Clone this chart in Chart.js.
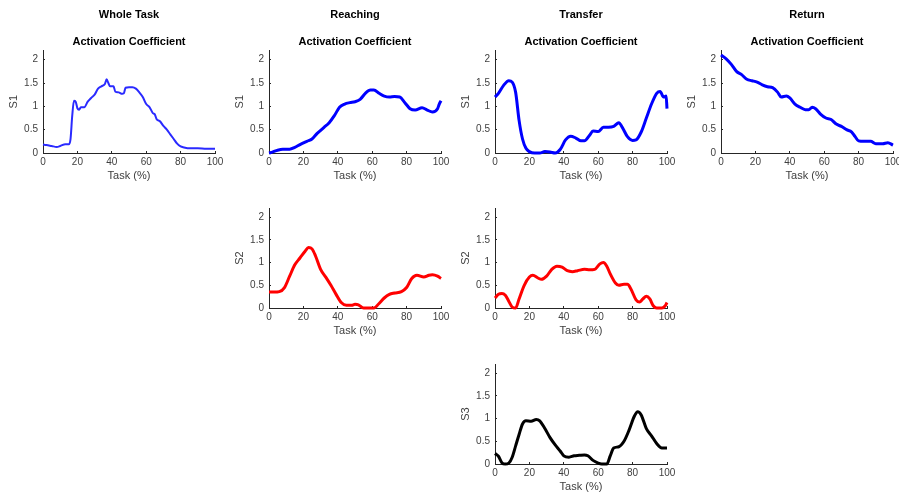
<!DOCTYPE html>
<html>
<head>
<meta charset="utf-8">
<script src="https://cdn.jsdelivr.net/npm/chart.js@4.4.0/dist/chart.umd.min.js"></script>
<style>
  body { margin: 0; background: #fff; }
  #wrap { position: relative; width: 899px; height: 495px; overflow: hidden; background: #fff; }
  #wrap canvas { position: absolute; }
</style>
</head>
<body>
<div id="wrap">
  <canvas id="c1" width="231" height="190" style="left:0px;top:0px"></canvas>
  <canvas id="c2" width="231" height="190" style="left:226px;top:0px"></canvas>
  <canvas id="c3" width="231" height="190" style="left:452px;top:0px"></canvas>
  <canvas id="c4" width="231" height="190" style="left:678px;top:0px"></canvas>
  <canvas id="c5" width="231" height="151" style="left:226px;top:194px"></canvas>
  <canvas id="c6" width="231" height="151" style="left:452px;top:194px"></canvas>
  <canvas id="c7" width="231" height="151" style="left:452px;top:350px"></canvas>
</div>
<script>
// Task (%) positions and activation coefficients

// Whole Task - S1
const wholeX  = [0, 2, 5, 8, 10, 13, 15, 16, 17, 18, 19, 20, 21, 22, 24, 26, 28, 30, 32, 34, 36, 37, 38, 39, 41, 42, 44, 46, 47, 48, 50, 52, 54, 56, 58, 60, 62, 64, 65, 66, 68, 70, 72, 74, 76, 78, 80, 82, 85, 90, 95, 100];
const wholeS1 = [0.18, 0.17, 0.15, 0.13, 0.15, 0.19, 0.19, 0.3, 0.8, 1.12, 1.1, 0.96, 0.93, 0.98, 0.98, 1.1, 1.18, 1.25, 1.38, 1.43, 1.48, 1.58, 1.5, 1.43, 1.43, 1.32, 1.3, 1.27, 1.28, 1.4, 1.41, 1.41, 1.38, 1.3, 1.2, 1.05, 0.98, 0.85, 0.83, 0.73, 0.68, 0.58, 0.5, 0.4, 0.3, 0.2, 0.14, 0.12, 0.1, 0.1, 0.09, 0.09];

// Reaching - S1, S2
const reachX1  = [0, 2, 5, 8, 12, 15, 18, 22, 25, 28, 32, 35, 38, 41, 44, 47, 50, 53, 56, 59, 61, 64, 67, 70, 73, 76, 79, 82, 85, 89, 92, 95, 98, 99, 100];
const reachS1  = [0.0, 0.02, 0.06, 0.08, 0.08, 0.12, 0.18, 0.25, 0.3, 0.42, 0.55, 0.65, 0.8, 0.98, 1.05, 1.08, 1.1, 1.15, 1.28, 1.35, 1.35, 1.28, 1.22, 1.2, 1.21, 1.2, 1.08, 0.95, 0.92, 0.97, 0.92, 0.88, 0.95, 1.05, 1.12];
const reachX2  = [0, 3, 6, 9, 12, 15, 18, 21, 23, 25, 27, 30, 33, 36, 39, 42, 45, 48, 50, 52, 55, 58, 61, 64, 67, 70, 73, 77, 80, 83, 86, 90, 93, 95, 98, 100];
const reachS2  = [0.35, 0.35, 0.36, 0.45, 0.7, 0.95, 1.1, 1.25, 1.33, 1.3, 1.15, 0.85, 0.68, 0.5, 0.3, 0.12, 0.06, 0.06, 0.08, 0.07, 0.0, 0.0, 0.0, 0.1, 0.22, 0.3, 0.33, 0.36, 0.45, 0.65, 0.72, 0.68, 0.72, 0.73, 0.7, 0.65];

// Transfer - S1, S2, S3
const transX1  = [0, 2, 5, 8, 10, 12, 14, 16, 18, 20, 23, 26, 29, 32, 35, 38, 41, 44, 47, 50, 52, 55, 57, 60, 63, 66, 69, 72, 74, 77, 80, 82, 85, 88, 91, 94, 96, 98, 99.5, 100];
const transS1  = [1.2, 1.28, 1.45, 1.55, 1.52, 1.3, 0.7, 0.3, 0.1, 0.03, 0.0, 0.0, 0.03, 0.02, 0.0, 0.08, 0.28, 0.36, 0.32, 0.26, 0.26, 0.38, 0.47, 0.46, 0.55, 0.55, 0.57, 0.65, 0.55, 0.35, 0.27, 0.28, 0.45, 0.75, 1.05, 1.28, 1.32, 1.2, 1.22, 0.95];
const transX2  = [0, 2, 4, 6, 8, 10, 12, 14, 17, 20, 22, 25, 27, 30, 33, 36, 39, 42, 45, 48, 52, 55, 58, 61, 63, 65, 67, 70, 72, 75, 77, 79, 82, 84, 86, 88, 90, 92, 94, 97, 99, 100];
const transS2  = [0.22, 0.3, 0.32, 0.28, 0.15, 0.02, 0.0, 0.2, 0.5, 0.68, 0.72, 0.66, 0.63, 0.7, 0.85, 0.92, 0.9, 0.82, 0.8, 0.82, 0.85, 0.84, 0.85, 0.97, 1.0, 0.92, 0.75, 0.55, 0.5, 0.52, 0.52, 0.42, 0.18, 0.13, 0.2, 0.26, 0.2, 0.05, 0.0, 0.0, 0.05, 0.12];
const transX3  = [0, 2, 4, 6, 8, 10, 12, 14, 16, 18, 21, 24, 26, 29, 32, 35, 38, 40, 43, 46, 49, 52, 54, 57, 60, 62, 65, 67, 69, 72, 75, 78, 81, 83, 85, 88, 91, 94, 97, 100];
const transS3  = [0.23, 0.17, 0.03, 0.0, 0.02, 0.15, 0.4, 0.65, 0.88, 0.95, 0.94, 0.98, 0.95, 0.78, 0.58, 0.42, 0.28, 0.18, 0.15, 0.18, 0.19, 0.2, 0.18, 0.08, 0.02, 0.0, 0.0, 0.18, 0.35, 0.38, 0.5, 0.75, 1.05, 1.15, 1.08, 0.78, 0.62, 0.45, 0.35, 0.35];

// Return - S1
const returnX1 = [0, 3, 6, 9, 12, 15, 18, 21, 24, 27, 30, 33, 35, 38, 40, 43, 46, 49, 51, 53, 55, 58, 61, 64, 67, 70, 73, 76, 78, 80, 83, 87, 90, 94, 97, 100];
const returnS1 = [2.1, 2.02, 1.9, 1.75, 1.68, 1.58, 1.55, 1.52, 1.46, 1.42, 1.4, 1.3, 1.2, 1.22, 1.18, 1.05, 0.98, 0.93, 0.93, 0.98, 0.95, 0.83, 0.75, 0.72, 0.62, 0.57, 0.5, 0.45, 0.35, 0.26, 0.25, 0.25, 0.2, 0.2, 0.22, 0.17];

const xTicks = [0, 20, 40, 60, 80, 100];
const yTicks = [0, 0.5, 1, 1.5, 2];

const axisColor = '#262626';
const labelColor = '#404040';
const fontFamily = 'Liberation Sans, Arial, sans-serif';

function pairs(xs, ys) {
    return xs.map((x, i) => ({ x: x, y: ys[i] }));
}

// MATLAB-style axes: left + bottom only, short inward tick marks
const gridStyle = { display: true, drawOnChartArea: false, drawTicks: true, tickLength: -2, color: axisColor, lineWidth: 1 };

function makePanel(id, xs, ys, color, width, yLabel, title) {
    const opts = {
        responsive: false,
        animation: false,
        layout: { padding: { left: 0, right: 16, top: title ? 0 : 14, bottom: 0 } },
        plugins: {
            legend: { display: false },
            tooltip: { enabled: false },
            title: {
                display: !!title,
                text: title || '',
                fullSize: false,
                color: '#000',
                font: { family: fontFamily, size: 11, weight: 'bold' },
                padding: { top: 8, bottom: 14 }
            },
            subtitle: {
                display: !!title,
                text: 'Activation Coefficient',
                fullSize: false,
                color: '#000',
                font: { family: fontFamily, size: 11, weight: 'bold' },
                padding: { top: 0, bottom: 2 }
            }
        },
        scales: {
            x: {
                type: 'linear',
                min: 0,
                max: 100,
                afterBuildTicks: (s) => { s.ticks = xTicks.map(v => ({ value: v })); },
                afterFit: (s) => { s.height = 37; },
                grid: gridStyle,
                border: { display: true, color: axisColor, width: 1 },
                ticks: { color: labelColor, padding: 5, maxRotation: 0, font: { family: fontFamily, size: 10 },
                         callback: (v) => String(v) },
                title: { display: true, text: 'Task (%)', color: labelColor, padding: { top: 0, bottom: 7 }, font: { family: fontFamily, size: 11 } }
            },
            y: {
                type: 'linear',
                min: 0,
                max: 2.2,
                afterBuildTicks: (s) => { s.ticks = yTicks.map(v => ({ value: v })); },
                afterFit: (s) => { s.width = 43; },
                grid: gridStyle,
                border: { display: true, color: axisColor, width: 1 },
                ticks: { color: labelColor, padding: 7, font: { family: fontFamily, size: 10 },
                         callback: (v) => String(v) },
                title: { display: true, text: yLabel, color: labelColor, padding: { top: 7.5, bottom: 0 }, font: { family: fontFamily, size: 11 } }
            }
        }
    };
    return new Chart(document.getElementById(id), {
        type: 'line',
        data: {
            datasets: [{
                data: pairs(xs, ys),
                borderColor: color,
                borderWidth: width,
                pointRadius: 0,
                fill: false,
                cubicInterpolationMode: 'monotone',
                clip: 5
            }]
        },
        options: opts
    });
}

makePanel('c1', wholeX, wholeS1, '#2a2aff', 2, 'S1', 'Whole Task');
makePanel('c2', reachX1, reachS1, '#0000ff', 3, 'S1', 'Reaching');
makePanel('c3', transX1, transS1, '#0000ff', 3, 'S1', 'Transfer');
makePanel('c4', returnX1, returnS1, '#0000ff', 3, 'S1', 'Return');
makePanel('c5', reachX2, reachS2, '#ff0000', 3, 'S2', null);
makePanel('c6', transX2, transS2, '#ff0000', 3, 'S2', null);
makePanel('c7', transX3, transS3, '#000000', 3, 'S3', null);
</script>
</body>
</html>
